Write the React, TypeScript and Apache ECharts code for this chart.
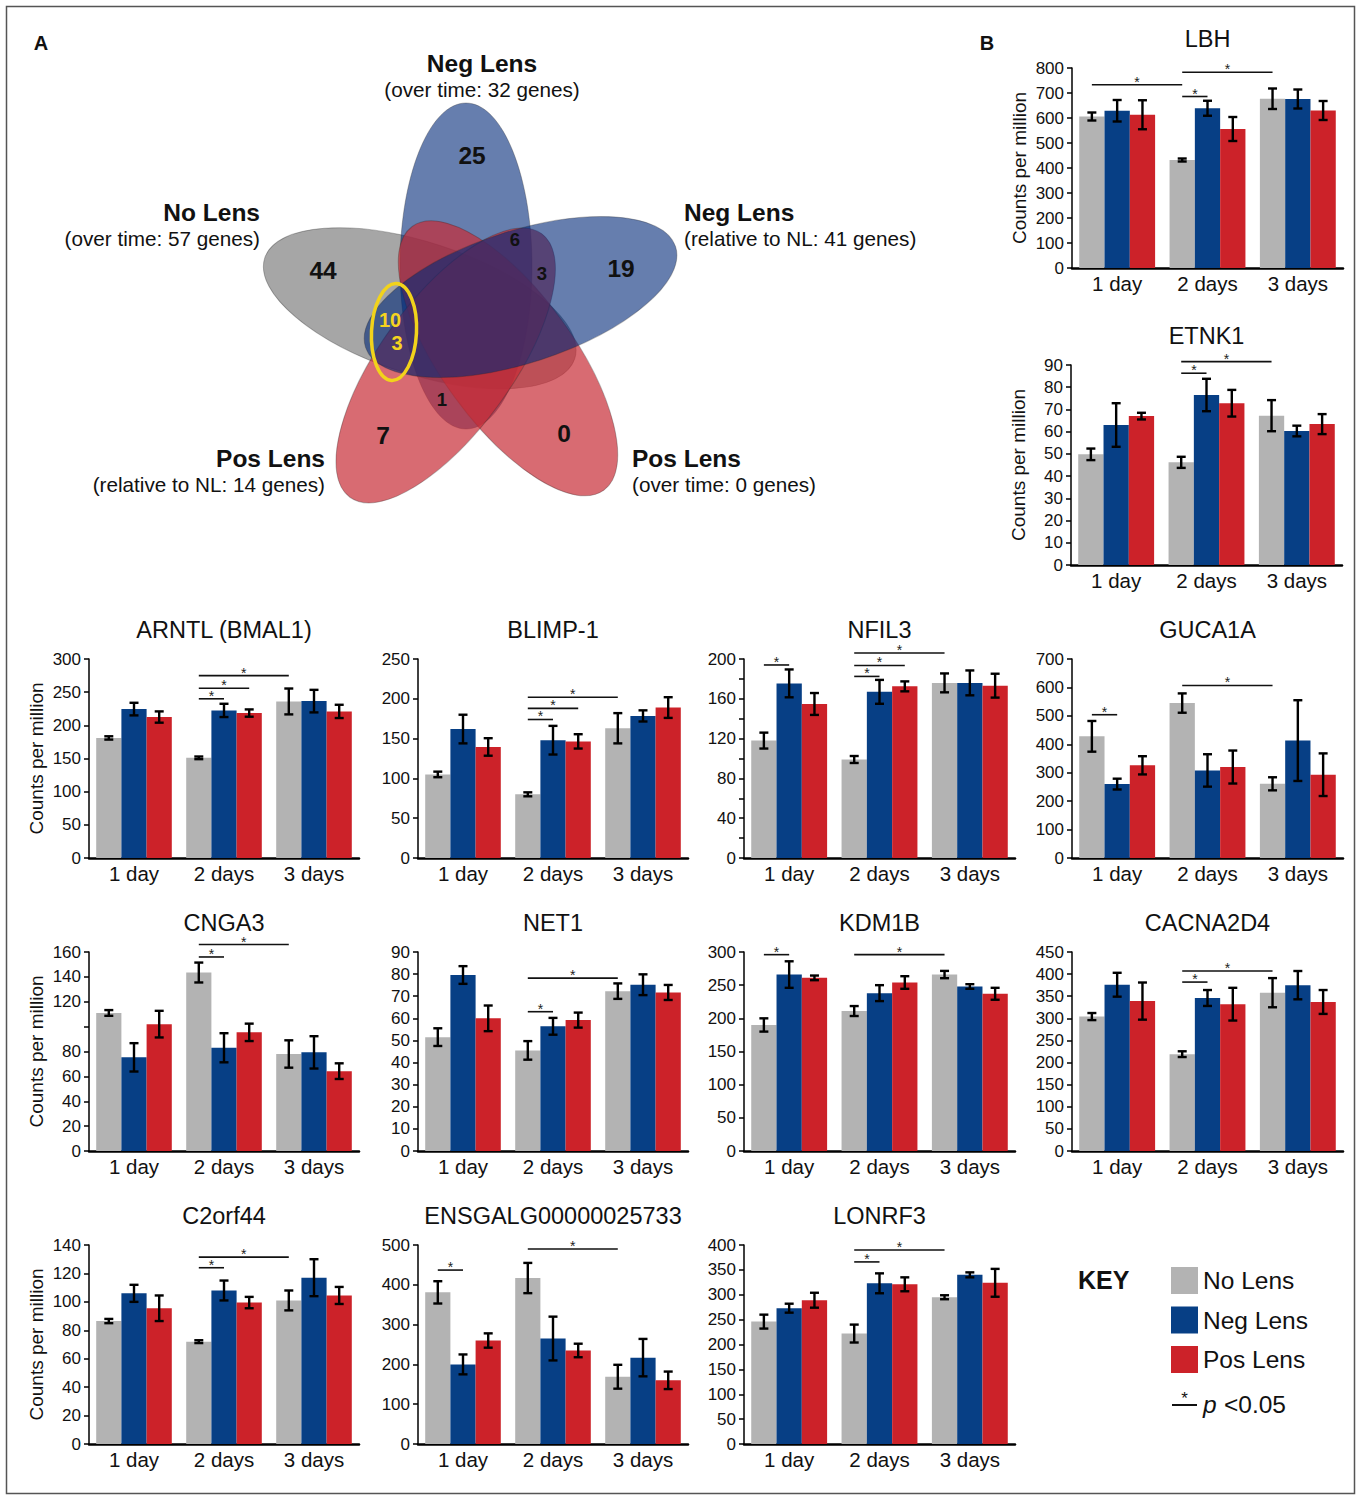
import React, { useEffect, useRef } from "react";
import * as echarts from "echarts";

const FONT = "'Liberation Sans', Arial, Helvetica, sans-serif";

const DAYS = ["1 day", "2 days", "3 days"];
const CONDITIONS = ["No Lens", "Neg Lens", "Pos Lens"];
const BAR_COLORS = ["#b3b3b3", "#073f85", "#cc2229"];

// Mean counts per million (CPM) and standard errors.
// Rows: No Lens, Neg Lens, Pos Lens. Columns: 1 day, 2 days, 3 days.
const LBH_CPM = [[606, 432, 677], [629, 639, 676], [613, 556, 630]];
const LBH_SE = [[16, 6, 41], [43, 30, 38], [58, 48, 38]];
const ETNK1_CPM = [[49.8, 46.2, 67.2], [63, 76.5, 60.3], [67, 72.8, 63.4]];
const ETNK1_SE = [[2.6, 2.5, 7], [9.8, 7.3, 2.4], [1.5, 6, 4.5]];
const ARNTL_CPM = [[181, 151, 236], [224.5, 222.5, 236.5], [212.5, 218.5, 221]];
const ARNTL_SE = [[2.5, 2, 19.5], [9.5, 10, 17], [8.5, 5.5, 10]];
const BLIMP1_CPM = [[105, 80, 163], [162, 148, 178.5], [139.5, 146.5, 189]];
const BLIMP1_SE = [[3.5, 2.5, 19], [18, 18, 7], [11, 9, 13]];
const NFIL3_CPM = [[118, 99, 176], [175.5, 167, 176], [154.8, 172.5, 173.2]];
const NFIL3_SE = [[8, 3.5, 9.5], [14, 12, 12.5], [11, 5, 12]];
const GUCA1A_CPM = [[428, 545, 261], [260, 308, 413], [326, 320, 293]];
const GUCA1A_SE = [[54, 34, 23], [19, 57, 142], [32, 58, 75]];
const CNGA3_CPM = [[111, 143.5, 78], [75.3, 83, 79.3], [102, 95.4, 64.2]];
const CNGA3_SE = [[2.3, 8, 11], [11.4, 11.7, 13], [10.7, 7, 6.3]];
const NET1_CPM = [[51.5, 45.5, 72.3], [79.6, 56.4, 75.2], [60, 59.2, 71.7]];
const NET1_SE = [[4, 4.2, 3.5], [4, 3.8, 4.7], [5.8, 3.4, 3.4]];
const KDM1B_CPM = [[190, 211, 266], [266, 238, 248], [261, 254, 237]];
const KDM1B_SE = [[10, 7.5, 5.5], [20, 12, 3.5], [3.5, 9.5, 9]];
const CACNA2D4_CPM = [[304, 219, 358], [376, 346, 375], [339, 332, 337]];
const CACNA2D4_SE = [[8, 6.5, 33], [27, 18, 32], [42, 37, 27]];
const C2ORF44_CPM = [[86.5, 72, 101], [106, 108, 117], [95.5, 99.5, 104.5]];
const C2ORF44_SE = [[1.5, 1, 7], [6, 7, 13], [9, 4, 6]];
const ENSG_CPM = [[381, 417, 169], [200, 265, 217], [260, 235, 160]];
const ENSG_SE = [[28, 38, 30], [25, 55, 47], [18, 17, 22]];
const LONRF3_CPM = [[246, 222, 295], [273, 323, 340], [289, 321, 324]];
const LONRF3_SE = [[14, 18, 4], [9, 20, 5], [15, 14, 28]];

// Significance brackets: [day A, condition A, day B, condition B, bracket height in CPM]
const LBH_SIG = [[0, 0, 1, 0, 733], [1, 0, 1, 1, 686], [1, 0, 2, 0, 783]];
const ETNK1_SIG = [[1, 0, 1, 1, 86.3], [1, 0, 2, 0, 91.5]];
const ARNTL_SIG = [[1, 0, 1, 1, 240], [1, 0, 1, 2, 256], [1, 0, 2, 0, 275]];
const BLIMP1_SIG = [[1, 0, 1, 1, 174], [1, 0, 1, 2, 188], [1, 0, 2, 0, 202]];
const NFIL3_SIG = [[0, 0, 0, 1, 194], [1, 0, 1, 1, 182.5], [1, 0, 1, 2, 193.5], [1, 0, 2, 0, 206]];
const GUCA1A_SIG = [[0, 0, 0, 1, 504], [1, 0, 2, 0, 607]];
const CNGA3_SIG = [[1, 0, 1, 1, 156], [1, 0, 2, 0, 166]];
const NET1_SIG = [[1, 0, 1, 1, 63], [1, 0, 2, 0, 78.2]];
const KDM1B_SIG = [[0, 0, 0, 1, 296], [1, 0, 2, 0, 296]];
const CACNA2D4_SIG = [[1, 0, 1, 1, 382], [1, 0, 2, 0, 407]];
const C2ORF44_SIG = [[1, 0, 1, 1, 124], [1, 0, 2, 0, 131.5]];
const ENSG_SIG = [[0, 0, 0, 1, 437], [1, 0, 2, 0, 490]];
const LONRF3_SIG = [[1, 0, 1, 1, 366], [1, 0, 2, 0, 390]];

// Tick values left without a label on the CNGA3 axis
const CNGA3_UNLABELLED = [100];

// Venn diagram: set names, set sizes and region counts
const VENN_TITLES = ["Neg Lens", "No Lens", "Neg Lens", "Pos Lens", "Pos Lens"];
const VENN_DETAILS = [
  "(over time: 32 genes)",
  "(over time: 57 genes)",
  "(relative to NL: 41 genes)",
  "(relative to NL: 14 genes)",
  "(over time: 0 genes)",
];
const VENN_COUNTS = ["25", "44", "19", "7", "0", "6", "3", "1"];
const VENN_HIGHLIGHT = ["10", "3"];

type Panel = {
  gene: string;
  cpm: number[][];
  se: number[][];
  sig: number[][];
  max: number;
  step: number;
  minor?: boolean;
  unlabelled?: number[];
  left: number;
  top: number;
  width: number;
  height: number;
  yName?: boolean;
};

const COL_LEFT = [89, 418, 744, 1072];
const COL_WIDTH = [270, 270, 271, 271];
const ROW_TOP = [659, 952, 1245];
const ROW_H = 199;

const cell = (c: number, r: number) => ({
  left: COL_LEFT[c],
  top: ROW_TOP[r],
  width: COL_WIDTH[c],
  height: ROW_H,
});

const PANELS: Panel[] = [
  { gene: "LBH", cpm: LBH_CPM, se: LBH_SE, sig: LBH_SIG, max: 800, step: 100, left: 1072, top: 68, width: 271, height: 200, yName: true },
  { gene: "ETNK1", cpm: ETNK1_CPM, se: ETNK1_SE, sig: ETNK1_SIG, max: 90, step: 10, left: 1071, top: 365, width: 271, height: 200, yName: true },
  { gene: "ARNTL (BMAL1)", cpm: ARNTL_CPM, se: ARNTL_SE, sig: ARNTL_SIG, max: 300, step: 50, ...cell(0, 0), yName: true },
  { gene: "BLIMP-1", cpm: BLIMP1_CPM, se: BLIMP1_SE, sig: BLIMP1_SIG, max: 250, step: 50, ...cell(1, 0) },
  { gene: "NFIL3", cpm: NFIL3_CPM, se: NFIL3_SE, sig: NFIL3_SIG, max: 200, step: 40, minor: true, ...cell(2, 0) },
  { gene: "GUCA1A", cpm: GUCA1A_CPM, se: GUCA1A_SE, sig: GUCA1A_SIG, max: 700, step: 100, ...cell(3, 0) },
  { gene: "CNGA3", cpm: CNGA3_CPM, se: CNGA3_SE, sig: CNGA3_SIG, max: 160, step: 20, unlabelled: CNGA3_UNLABELLED, ...cell(0, 1), yName: true },
  { gene: "NET1", cpm: NET1_CPM, se: NET1_SE, sig: NET1_SIG, max: 90, step: 10, ...cell(1, 1) },
  { gene: "KDM1B", cpm: KDM1B_CPM, se: KDM1B_SE, sig: KDM1B_SIG, max: 300, step: 50, ...cell(2, 1) },
  { gene: "CACNA2D4", cpm: CACNA2D4_CPM, se: CACNA2D4_SE, sig: CACNA2D4_SIG, max: 450, step: 50, ...cell(3, 1) },
  { gene: "C2orf44", cpm: C2ORF44_CPM, se: C2ORF44_SE, sig: C2ORF44_SIG, max: 140, step: 20, ...cell(0, 2), yName: true },
  { gene: "ENSGALG00000025733", cpm: ENSG_CPM, se: ENSG_SE, sig: ENSG_SIG, max: 500, step: 100, ...cell(1, 2) },
  { gene: "LONRF3", cpm: LONRF3_CPM, se: LONRF3_SE, sig: LONRF3_SIG, max: 400, step: 50, ...cell(2, 2) },
];

const CATEGORY_GAP = 0.16;

function barCenter(api: any, day: number, cond: number) {
  const band = api.size([1, 0])[0];
  const bw = (band * (1 - CATEGORY_GAP)) / 3;
  return api.coord([day, 0])[0] + (cond - 1) * bw;
}

function renderErrorBar(_params: any, api: any) {
  const day = api.value(0);
  const cond = api.value(1);
  const mean = api.value(2);
  const err = api.value(3);
  const x = barCenter(api, day, cond);
  const yTop = api.coord([day, mean + err])[1];
  const yBot = api.coord([day, mean - err])[1];
  const cap = 4.5;
  const style = { stroke: "#000", lineWidth: 2.4 };
  return {
    type: "group",
    children: [
      { type: "line", shape: { x1: x, y1: yTop, x2: x, y2: yBot }, style },
      { type: "line", shape: { x1: x - cap, y1: yTop, x2: x + cap, y2: yTop }, style },
      { type: "line", shape: { x1: x - cap, y1: yBot, x2: x + cap, y2: yBot }, style },
    ],
  };
}

function renderBracket(_params: any, api: any) {
  const xa = barCenter(api, api.value(0), api.value(1));
  const xb = barCenter(api, api.value(2), api.value(3));
  const y = api.coord([api.value(0), api.value(4)])[1];
  return {
    type: "group",
    children: [
      { type: "line", shape: { x1: xa, y1: y, x2: xb, y2: y }, style: { stroke: "#111", lineWidth: 1.6 } },
      {
        type: "text",
        x: (xa + xb) / 2,
        y: y - 3,
        style: {
          text: "*",
          fontSize: 14,
          fontFamily: FONT,
          fill: "#222",
          align: "center",
          verticalAlign: "middle",
          textAlign: "center",
          textVerticalAlign: "middle",
        },
      },
    ],
  };
}

function txt(text: string, x: number, y: number, size: number, opts: any = {}) {
  const align = opts.align || "center";
  return {
    type: "text",
    x,
    y,
    silent: true,
    style: {
      text,
      fontSize: size,
      fontFamily: FONT,
      fontWeight: opts.bold ? "bold" : "normal",
      fontStyle: opts.italic ? "italic" : "normal",
      fill: opts.color || "#111",
      align,
      verticalAlign: "middle",
      textAlign: align,
      textVerticalAlign: "middle",
    },
  };
}

// Five rotated ellipses of the Venn diagram, placed with 72 degree symmetry
function vennEllipses() {
  const C = [472, 319];
  const off = [-6, -53];
  const layers = [
    { k: 1, fill: "rgba(128,128,128,0.7)" }, // No Lens
    { k: 0, fill: "rgba(0,40,120,0.6)" }, // Neg Lens over time
    { k: -2, fill: "rgba(200,44,54,0.7)" }, // Pos Lens over time
    { k: 2, fill: "rgba(200,44,54,0.7)" }, // Pos Lens relative to NL
    { k: -1, fill: "rgba(0,40,120,0.6)" }, // Neg Lens relative to NL
  ];
  return layers.map(({ k, fill }) => {
    const a = (k * 72 * Math.PI) / 180;
    const cx = C[0] + off[0] * Math.cos(a) + off[1] * Math.sin(a);
    const cy = C[1] - off[0] * Math.sin(a) + off[1] * Math.cos(a);
    return {
      type: "ellipse",
      x: cx,
      y: cy,
      rotation: a,
      silent: true,
      shape: { cx: 0, cy: 0, rx: 66, ry: 163 },
      style: { fill, stroke: "rgba(40,40,40,0.3)", lineWidth: 1 },
    };
  });
}

function buildOption() {
  const grid: any[] = [];
  const xAxis: any[] = [];
  const yAxis: any[] = [];
  const series: any[] = [];
  const graphic: any[] = [];

  PANELS.forEach((p, i) => {
    grid.push({ left: p.left, top: p.top, width: p.width, height: p.height, containLabel: false, outerBoundsMode: "none" });
    xAxis.push({
      type: "category",
      gridIndex: i,
      data: DAYS,
      axisLine: { show: true, onZero: false, lineStyle: { color: "#000", width: 2.5 } },
      axisTick: { show: false },
      splitLine: { show: false },
      axisLabel: { color: "#111", fontSize: 20.5, fontFamily: FONT, margin: 5 },
    });
    const hidden = p.unlabelled || [];
    yAxis.push({
      type: "value",
      gridIndex: i,
      min: 0,
      max: p.max,
      interval: p.step,
      axisLine: { show: true, lineStyle: { color: "#000", width: 1.5 } },
      axisTick: { show: true, length: 5, lineStyle: { color: "#000", width: 1.5 } },
      minorTick: p.minor
        ? { show: true, splitNumber: 2, length: 5, lineStyle: { color: "#000", width: 1.5 } }
        : { show: false },
      splitLine: { show: false },
      minorSplitLine: { show: false },
      axisLabel: {
        color: "#111",
        fontSize: 17,
        fontFamily: FONT,
        margin: 8,
        formatter: (v: number) => (hidden.indexOf(v) >= 0 ? "" : String(v)),
      },
      name: p.yName ? "Counts per million" : "",
      nameLocation: "middle",
      nameGap: 43,
      nameTextStyle: { color: "#111", fontSize: 19, fontFamily: FONT },
    });
    CONDITIONS.forEach((c, s) => {
      series.push({
        type: "bar",
        name: c,
        xAxisIndex: i,
        yAxisIndex: i,
        data: p.cpm[s],
        barGap: "0%",
        barCategoryGap: `${CATEGORY_GAP * 100}%`,
        itemStyle: { color: BAR_COLORS[s] },
        silent: true,
      });
    });
    const errData: number[][] = [];
    p.cpm.forEach((row, s) => row.forEach((m, d) => errData.push([d, s, m, p.se[s][d]])));
    series.push({
      type: "custom",
      xAxisIndex: i,
      yAxisIndex: i,
      z: 5,
      silent: true,
      clip: false,
      encode: { x: 0, y: 2 },
      data: errData,
      renderItem: renderErrorBar,
    });
    series.push({
      type: "custom",
      xAxisIndex: i,
      yAxisIndex: i,
      z: 5,
      silent: true,
      clip: false,
      encode: { x: 0, y: 4 },
      data: p.sig,
      renderItem: renderBracket,
    });
    graphic.push(txt(p.gene, p.left + p.width / 2, p.top - 29.5, 23.5));
  });

  // frame and panel letters
  graphic.push({
    type: "rect",
    silent: true,
    shape: { x: 6.5, y: 6.5, width: 1348, height: 1487 },
    style: { fill: "none", stroke: "#555", lineWidth: 1.5 },
  });
  graphic.push(txt("A", 41, 43, 20, { bold: true }));
  graphic.push(txt("B", 987, 43, 20, { bold: true }));

  // Venn diagram
  graphic.push(...vennEllipses());
  graphic.push({
    type: "ellipse",
    x: 394,
    y: 332,
    rotation: -0.05,
    silent: true,
    shape: { cx: 0, cy: 0, rx: 22.5, ry: 48.5 },
    style: { fill: "none", stroke: "#f2d31b", lineWidth: 3.5 },
  });
  const bigPos = [[472, 155], [323, 270], [621, 268], [383, 435], [564, 433]];
  const smallPos = [[515, 239], [542, 273], [442, 399]];
  VENN_COUNTS.forEach((n, i) => {
    if (i < 5) graphic.push(txt(n, bigPos[i][0], bigPos[i][1], 24.5, { bold: true }));
    else graphic.push(txt(n, smallPos[i - 5][0], smallPos[i - 5][1], 18.5, { bold: true }));
  });
  graphic.push(txt(VENN_HIGHLIGHT[0], 390, 320, 20, { bold: true, color: "#f5d420" }));
  graphic.push(txt(VENN_HIGHLIGHT[1], 397, 343, 20, { bold: true, color: "#f5d420" }));

  const titlePos = [
    [482, 63, "center"],
    [260, 212, "right"],
    [684, 212, "left"],
    [325, 458, "right"],
    [632, 458, "left"],
  ];
  VENN_TITLES.forEach((t, i) => {
    const [x, y, align] = titlePos[i] as [number, number, string];
    graphic.push(txt(t, x, y, 24.5, { bold: true, align }));
    graphic.push(txt(VENN_DETAILS[i], x, y + 26.5, 20.7, { align }));
  });

  // key
  graphic.push(txt("KEY", 1078, 1280, 25, { bold: true, align: "left" }));
  graphic.push({
    type: "line",
    silent: true,
    shape: { x1: 1172, y1: 1405, x2: 1197, y2: 1405 },
    style: { stroke: "#111", lineWidth: 2 },
  });
  graphic.push(txt("*", 1184.5, 1398, 17));
  graphic.push(txt("p", 1203, 1404, 24.5, { italic: true, align: "left" }));
  graphic.push(txt("<0.05", 1224, 1404, 24.5, { align: "left" }));

  return {
    animation: false,
    backgroundColor: "#ffffff",
    textStyle: { fontFamily: FONT },
    legend: {
      data: CONDITIONS,
      orient: "vertical",
      left: 1171,
      top: 1267,
      padding: 0,
      itemWidth: 27,
      itemHeight: 27,
      itemGap: 12.5,
      icon: "rect",
      selectedMode: false,
      textStyle: { color: "#111", fontSize: 24.5, fontFamily: FONT },
    },
    grid,
    xAxis,
    yAxis,
    series,
    graphic,
  };
}

export default function App() {
  const ref = useRef<HTMLDivElement>(null);
  useEffect(() => {
    const chart = echarts.init(ref.current as HTMLDivElement, undefined, { renderer: "svg" });
    chart.setOption(buildOption() as any);
    return () => chart.dispose();
  }, []);
  return (
    <div
      ref={ref}
      style={{ position: "absolute", left: 0, top: 0, width: 1362, height: 1498, background: "#fff" }}
    />
  );
}
